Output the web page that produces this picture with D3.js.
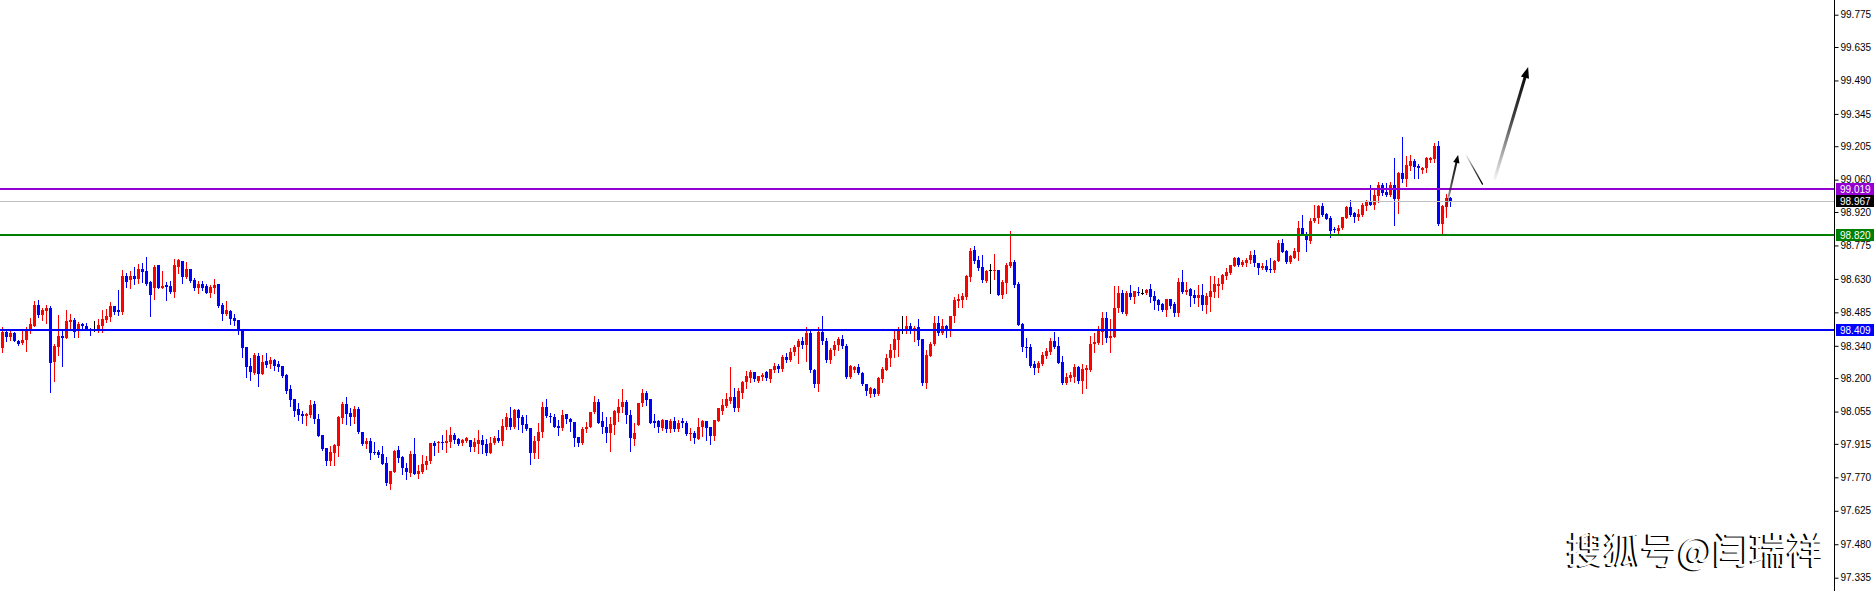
<!DOCTYPE html>
<html><head><meta charset="utf-8">
<script src="https://cdn.jsdelivr.net/npm/d3@7"></script>
<style>html,body{margin:0;padding:0;background:#fff;overflow:hidden}</style>
</head><body>
<svg id="c" width="1876" height="591"></svg>
<script>
const opens = [
98.329,98.401,98.379,98.397,98.360,98.353,98.365,98.408,98.427,98.517,
98.473,98.492,98.502,98.271,98.336,98.382,98.376,98.444,98.452,98.411,
98.434,98.425,98.415,98.412,98.408,98.425,98.452,98.466,98.512,98.495,
98.488,98.642,98.625,98.642,98.628,98.671,98.664,98.615,98.592,98.690,
98.592,98.603,98.600,98.574,98.683,98.707,98.639,98.673,98.625,98.589,
98.610,98.600,98.570,98.589,98.610,98.519,98.476,98.492,98.462,98.452,
98.408,98.336,98.254,98.220,98.297,98.217,98.275,98.261,98.278,98.259,
98.254,98.213,98.152,98.109,98.066,98.045,98.037,98.040,98.088,98.021,
97.954,97.899,97.842,97.877,97.906,98.029,98.088,98.047,98.033,98.065,
97.968,97.915,97.927,97.878,97.878,97.871,97.831,97.741,97.795,97.888,
97.860,97.809,97.790,97.871,97.783,97.795,97.823,97.841,97.920,97.917,
97.923,97.917,97.925,97.954,97.936,97.917,97.929,97.932,97.903,97.915,
97.932,97.915,97.877,97.920,97.942,97.929,97.987,98.026,97.987,98.062,
98.030,98.000,97.982,97.877,97.927,97.965,98.073,98.037,98.033,97.993,
97.985,98.043,98.021,98.008,97.946,97.920,97.979,97.986,98.052,98.098,
98.012,97.986,97.964,97.997,98.050,98.076,98.098,98.041,97.938,97.997,
98.091,98.137,98.108,98.015,98.012,97.983,98.019,97.980,98.012,97.978,
98.012,98.007,97.957,97.964,97.937,97.986,98.012,97.990,97.950,98.015,
98.059,98.080,98.101,98.116,98.072,98.137,98.181,98.202,98.228,98.189,
98.204,98.228,98.195,98.233,98.253,98.239,98.290,98.278,98.315,98.335,
98.360,98.345,98.395,98.236,98.175,98.400,98.360,98.280,98.320,98.345,
98.370,98.340,98.206,98.233,98.246,98.224,98.175,98.131,98.152,98.131,
98.196,98.235,98.285,98.321,98.365,98.414,98.404,98.428,98.408,98.420,
98.369,98.177,98.295,98.347,98.440,98.394,98.425,98.408,98.469,98.535,
98.538,98.550,98.639,98.755,98.712,98.681,98.622,98.667,98.665,98.668,
98.560,98.613,98.687,98.704,98.608,98.434,98.336,98.336,98.261,98.245,
98.261,98.295,98.311,98.362,98.339,98.268,98.177,98.202,98.206,98.249,
98.187,98.235,98.235,98.350,98.353,98.401,98.459,98.375,98.379,98.506,
98.570,98.480,98.567,98.553,98.574,98.569,98.567,98.586,98.556,98.538,
98.521,98.495,98.543,98.520,98.484,98.615,98.575,98.586,98.560,98.549,
98.560,98.517,98.553,98.575,98.601,98.606,98.644,98.654,98.687,98.722,
98.690,98.700,98.712,98.734,98.697,98.679,98.686,98.673,98.669,98.708,
98.784,98.751,98.705,98.722,98.748,98.849,98.825,98.796,98.882,98.893,
98.946,98.910,98.895,98.846,98.839,98.849,98.895,98.943,98.914,98.897,
98.907,98.947,98.965,98.950,98.989,99.037,99.008,98.994,99.037,98.976,
99.091,99.062,99.121,99.141,99.121,99.102,99.109,99.145,99.148,99.206,
98.868,98.943,98.982];
const highs = [
98.420,98.408,98.404,98.401,98.365,98.404,98.420,98.462,98.535,98.538,
98.502,98.519,98.512,98.350,98.473,98.405,98.495,98.480,98.459,98.444,
98.441,98.437,98.417,98.447,98.456,98.495,98.498,98.530,98.512,98.582,
98.668,98.657,98.665,98.683,98.693,98.697,98.723,98.621,98.690,98.690,
98.664,98.618,98.621,98.716,98.715,98.707,98.704,98.675,98.632,98.621,
98.621,98.606,98.603,98.628,98.610,98.524,98.534,98.495,98.480,98.454,
98.408,98.336,98.285,98.307,98.307,98.300,98.307,98.293,98.281,98.275,
98.254,98.216,98.170,98.109,98.090,98.059,98.050,98.105,98.101,98.045,
97.954,97.899,97.906,97.914,98.036,98.098,98.117,98.069,98.079,98.073,
97.968,97.942,97.942,97.925,97.888,97.906,97.860,97.797,97.888,97.906,
97.862,97.831,97.884,97.942,97.823,97.867,97.862,97.920,97.929,97.929,
97.954,97.975,97.987,97.964,97.939,97.935,97.946,97.932,97.939,97.975,
97.954,97.935,97.943,97.949,97.975,98.021,98.050,98.073,98.066,98.065,
98.040,98.040,97.982,97.951,98.004,98.098,98.110,98.050,98.043,98.019,
98.062,98.043,98.026,98.008,97.946,97.987,98.008,98.055,98.124,98.110,
98.055,98.033,98.033,98.062,98.110,98.153,98.105,98.062,98.004,98.094,
98.152,98.145,98.111,98.045,98.019,98.022,98.019,98.022,98.030,98.019,
98.029,98.012,97.983,97.971,98.029,98.019,98.015,97.990,98.019,98.069,
98.108,98.137,98.246,98.156,98.156,98.189,98.231,98.236,98.228,98.210,
98.221,98.231,98.239,98.264,98.262,98.300,98.310,98.330,98.345,98.370,
98.380,98.420,98.410,98.240,98.420,98.470,98.375,98.330,98.360,98.380,
98.385,98.350,98.257,98.253,98.262,98.228,98.175,98.163,98.155,98.206,
98.249,98.303,98.350,98.408,98.420,98.469,98.469,98.441,98.425,98.456,
98.369,98.321,98.358,98.469,98.469,98.456,98.430,98.469,98.550,98.564,
98.570,98.647,98.762,98.772,98.729,98.733,98.668,98.694,98.738,98.668,
98.625,98.700,98.837,98.712,98.615,98.437,98.375,98.347,98.274,98.274,
98.314,98.329,98.376,98.398,98.379,98.295,98.223,98.228,98.259,98.254,
98.259,98.256,98.382,98.394,98.425,98.488,98.488,98.456,98.600,98.600,
98.582,98.579,98.603,98.577,98.593,98.586,98.586,98.608,98.577,98.543,
98.527,98.545,98.543,98.531,98.635,98.669,98.615,98.591,98.582,98.604,
98.608,98.567,98.644,98.644,98.632,98.651,98.676,98.690,98.726,98.726,
98.712,98.719,98.751,98.755,98.700,98.700,98.712,98.722,98.712,98.799,
98.803,98.755,98.734,98.762,98.882,98.907,98.835,98.895,98.950,98.950,
98.961,98.914,98.903,98.856,98.864,98.900,98.947,98.972,98.921,98.932,
98.961,98.972,99.037,99.015,99.052,99.044,99.044,99.052,99.153,99.095,
99.247,99.164,99.167,99.148,99.128,99.117,99.157,99.160,99.218,99.228,
98.950,98.997,98.986];
const lows = [
98.314,98.362,98.365,98.360,98.343,98.350,98.319,98.394,98.427,98.466,
98.454,98.437,98.141,98.189,98.300,98.254,98.376,98.408,98.379,98.379,
98.408,98.408,98.387,98.404,98.398,98.401,98.444,98.447,98.480,98.473,
98.480,98.596,98.592,98.606,98.613,98.618,98.603,98.470,98.545,98.589,
98.589,98.538,98.567,98.553,98.654,98.613,98.632,98.618,98.582,98.567,
98.582,98.567,98.553,98.567,98.509,98.454,98.473,98.434,98.430,98.391,
98.293,98.206,98.191,98.216,98.167,98.217,98.249,98.242,98.235,98.230,
98.206,98.136,98.080,98.037,98.018,98.007,97.997,98.033,98.004,97.949,
97.888,97.823,97.823,97.823,97.862,98.007,98.001,97.997,98.007,97.961,
97.910,97.896,97.848,97.870,97.857,97.828,97.737,97.719,97.795,97.838,
97.784,97.763,97.777,97.784,97.769,97.790,97.805,97.834,97.867,97.881,
97.893,97.881,97.900,97.920,97.910,97.910,97.925,97.884,97.886,97.877,
97.874,97.867,97.874,97.915,97.925,97.910,97.978,97.978,97.982,97.978,
97.968,97.975,97.828,97.852,97.852,97.946,98.033,98.011,97.987,97.954,
97.975,98.007,97.972,97.906,97.906,97.914,97.968,97.986,98.048,98.004,
97.964,97.921,97.886,97.958,98.015,98.055,98.007,97.886,97.908,97.997,
98.081,98.084,98.004,97.990,97.968,97.975,97.968,97.968,97.972,97.971,
97.986,97.954,97.932,97.918,97.937,97.947,97.932,97.913,97.932,98.012,
98.043,98.076,98.094,98.059,98.059,98.113,98.156,98.181,98.189,98.182,
98.192,98.192,98.185,98.228,98.228,98.230,98.268,98.272,98.300,98.267,
98.330,98.275,98.225,98.160,98.146,98.350,98.270,98.265,98.300,98.320,
98.330,98.200,98.199,98.225,98.218,98.168,98.127,98.119,98.123,98.126,
98.184,98.235,98.254,98.293,98.297,98.394,98.397,98.394,98.362,98.343,
98.170,98.158,98.295,98.343,98.387,98.391,98.379,98.384,98.444,98.509,
98.509,98.545,98.621,98.700,98.668,98.618,98.615,98.570,98.629,98.560,
98.548,98.567,98.683,98.596,98.430,98.319,98.293,98.249,98.217,98.225,
98.256,98.288,98.304,98.329,98.264,98.173,98.173,98.187,98.184,98.177,
98.134,98.155,98.230,98.314,98.347,98.350,98.358,98.314,98.379,98.488,
98.483,98.473,98.543,98.524,98.560,98.564,98.563,98.531,98.501,98.495,
98.492,98.470,98.505,98.471,98.471,98.567,98.565,98.514,98.527,98.514,
98.495,98.481,98.491,98.553,98.553,98.586,98.630,98.651,98.686,98.687,
98.687,98.687,98.700,98.686,98.651,98.671,98.664,98.661,98.661,98.708,
98.745,98.700,98.697,98.719,98.712,98.820,98.752,98.787,98.878,98.871,
98.903,98.888,98.813,98.835,98.825,98.846,98.893,98.903,98.878,98.885,
98.903,98.929,98.950,98.933,98.965,98.994,98.989,98.989,98.864,98.917,
99.052,99.034,99.102,99.066,99.069,99.088,99.095,99.135,99.138,98.864,
98.823,98.897,98.947];
const closes = [
98.401,98.379,98.397,98.362,98.347,98.365,98.408,98.434,98.517,98.473,
98.495,98.502,98.267,98.339,98.382,98.375,98.447,98.452,98.401,98.434,
98.428,98.411,98.408,98.412,98.430,98.456,98.469,98.512,98.488,98.488,
98.642,98.618,98.642,98.629,98.671,98.661,98.608,98.560,98.683,98.592,
98.600,98.596,98.574,98.690,98.712,98.639,98.671,98.622,98.589,98.610,
98.589,98.570,98.596,98.603,98.514,98.476,98.495,98.456,98.447,98.408,
98.332,98.249,98.225,98.300,98.217,98.271,98.256,98.278,98.254,98.249,
98.210,98.144,98.105,98.059,98.040,98.037,98.045,98.084,98.021,97.949,
97.893,97.842,97.881,97.910,98.033,98.088,98.045,98.033,98.065,97.965,
97.915,97.927,97.874,97.874,97.867,97.828,97.747,97.797,97.884,97.855,
97.809,97.795,97.870,97.784,97.797,97.828,97.841,97.917,97.907,97.925,
97.917,97.929,97.954,97.932,97.915,97.932,97.942,97.903,97.923,97.932,
97.910,97.877,97.920,97.942,97.927,97.993,98.033,97.990,98.062,98.026,
97.997,97.978,97.877,97.929,97.965,98.073,98.036,98.030,97.990,97.985,
98.040,98.021,98.008,97.942,97.920,97.979,97.990,98.055,98.098,98.007,
97.986,97.961,98.001,98.058,98.076,98.098,98.041,97.942,97.961,98.094,
98.137,98.103,98.007,98.004,97.986,98.019,97.978,98.012,97.978,98.007,
98.004,97.957,97.964,97.939,97.990,98.015,97.983,97.947,98.019,98.069,
98.084,98.108,98.116,98.072,98.142,98.181,98.211,98.228,98.195,98.207,
98.214,98.199,98.239,98.253,98.239,98.290,98.278,98.315,98.335,98.360,
98.345,98.395,98.233,98.175,98.400,98.360,98.280,98.320,98.345,98.370,
98.340,98.206,98.253,98.246,98.221,98.173,98.142,98.158,98.129,98.199,
98.239,98.285,98.321,98.369,98.415,98.414,98.428,98.408,98.418,98.365,
98.177,98.300,98.350,98.437,98.397,98.425,98.404,98.469,98.538,98.544,
98.557,98.642,98.751,98.709,98.678,98.625,98.664,98.667,98.668,98.560,
98.618,98.690,98.704,98.603,98.430,98.336,98.332,98.254,98.245,98.267,
98.300,98.317,98.360,98.336,98.267,98.177,98.206,98.213,98.249,98.189,
98.239,98.245,98.350,98.358,98.405,98.459,98.376,98.384,98.506,98.570,
98.485,98.570,98.553,98.577,98.570,98.569,98.582,98.553,98.535,98.519,
98.495,98.541,98.514,98.484,98.615,98.572,98.582,98.557,98.549,98.560,
98.517,98.557,98.578,98.608,98.608,98.647,98.658,98.690,98.722,98.690,
98.702,98.712,98.734,98.697,98.679,98.686,98.669,98.669,98.708,98.784,
98.748,98.705,98.729,98.752,98.849,98.825,98.799,98.882,98.895,98.946,
98.907,98.890,98.839,98.845,98.852,98.897,98.943,98.907,98.900,98.910,
98.950,98.968,98.950,98.994,99.037,99.004,98.994,99.037,98.976,99.091,
99.062,99.124,99.141,99.117,99.109,99.109,99.153,99.156,99.206,98.868,
98.946,98.982,98.965];

const tickLabels = ["99.775","99.635","99.490","99.345","99.205","99.060","98.920","98.775","98.630",
  "98.485","98.340","98.200","98.055","97.915","97.770","97.625","97.480","97.335"];
const levelValues = [99.019, 98.967, 98.820, 98.409];
const levelLabels = ["99.019", "98.967", "98.820", "98.409"];
// arrows: [barIndex, price] start and end
const arrowStarts = [[360.6, 98.915], [365.9, 99.167], [373.1, 99.066]];
const arrowEnds   = [[363.9, 99.167], [370.0, 99.041], [381.4, 99.548]];
const watermark = "搜狐号@闫瑞祥";

const W = 1876, H = 591, axisX = 1834;
const svg = d3.select('#c');
const n = opens.length;
const x = d3.scaleLinear().domain([0, n - 1]).range([2.5, 2.5 + 4 * (n - 1)]);
const y = d3.scaleLinear().domain([97.335, 99.775]).range([577.7, 14.7]);

const bars = d3.range(n).map(i => ({i, o: opens[i], h: highs[i], l: lows[i], c: closes[i]}));
const col = d => d.c > d.o ? '#ff0000' : (d.c < d.o ? '#0000ff' : '#000000');

const gC = svg.append('g');
gC.selectAll('line.w').data(bars).enter().append('line')
  .attr('x1', d => x(d.i)).attr('x2', d => x(d.i))
  .attr('y1', d => Math.round(y(d.h))).attr('y2', d => Math.round(y(d.l)) + 1)
  .attr('stroke', col).attr('stroke-width', 1);
gC.selectAll('rect.b').data(bars).enter().append('rect')
  .attr('x', d => x(d.i) - 1.5).attr('width', 3)
  .attr('y', d => Math.round(y(Math.max(d.o, d.c))))
  .attr('height', d => Math.max(1, Math.round(y(Math.min(d.o, d.c))) - Math.round(y(Math.max(d.o, d.c)))))
  .attr('fill', col);

// horizontal levels
const levelColors = ['#9400d3', '#c0c0c0', '#008000', '#0000ff'];
const levelWidths = [2, 1, 2, 2];
const boxText = ['#ffffff', '#ffffff', '#ffffff', '#ffffff'];
const boxFill = ['#9400d3', '#000000', '#008000', '#0000ff'];
svg.append('g').selectAll('line').data(levelValues).enter().append('line')
  .attr('x1', 0).attr('x2', axisX)
  .attr('y1', (d, i) => levelWidths[i] === 1 ? Math.round(y(d)) + 0.5 : Math.round(y(d)))
  .attr('y2', (d, i) => levelWidths[i] === 1 ? Math.round(y(d)) + 0.5 : Math.round(y(d)))
  .attr('stroke', (d, i) => levelColors[i]).attr('stroke-width', (d, i) => levelWidths[i]);

// arrows
const defs = svg.append('defs');
const arrowW = [2, 1.3, 3];
const arrowHead = [[8, 3.2], null, [11, 4.2]];
arrowStarts.forEach((s, k) => {
  const x1 = x(s[0]), y1 = y(s[1]), x2 = x(arrowEnds[k][0]), y2 = y(arrowEnds[k][1]);
  const gid = 'ag' + k;
  const g = defs.append('linearGradient').attr('id', gid).attr('gradientUnits', 'userSpaceOnUse')
    .attr('x1', x1).attr('y1', y1).attr('x2', x2).attr('y2', y2);
  g.append('stop').attr('offset', 0).attr('stop-color', '#000').attr('stop-opacity', 0.05);
  g.append('stop').attr('offset', 0.55).attr('stop-color', '#000').attr('stop-opacity', 0.75);
  g.append('stop').attr('offset', 1).attr('stop-color', '#000').attr('stop-opacity', 1);
  const dx = x2 - x1, dy = y2 - y1, L = Math.hypot(dx, dy), ux = dx / L, uy = dy / L;
  const hd = arrowHead[k];
  const lx2 = hd ? x2 - ux * hd[0] * 0.6 : x2, ly2 = hd ? y2 - uy * hd[0] * 0.6 : y2;
  svg.append('line').attr('x1', x1).attr('y1', y1).attr('x2', lx2).attr('y2', ly2)
    .attr('stroke', `url(#${gid})`).attr('stroke-width', arrowW[k]).attr('stroke-linecap', 'round');
  if (hd) {
    const bx = x2 - ux * hd[0], by = y2 - uy * hd[0];
    const px = -uy, py = ux;
    svg.append('polygon')
      .attr('points', [[x2, y2], [bx + px * hd[1], by + py * hd[1]], [bx - px * hd[1], by - py * hd[1]]].map(p => p.join(',')).join(' '))
      .attr('fill', '#000');
  }
});

// watermark
const wm = svg.append('g').attr('font-family', "'Noto Sans CJK SC', sans-serif").attr('font-size', 37)
  .attr('text-anchor', 'end');
wm.append('text').attr('x', 1822).attr('y', 565).attr('fill', '#000').text(watermark);
wm.append('text').attr('x', 1824).attr('y', 564).attr('fill', '#fff').text(watermark);

// right axis
svg.append('rect').attr('x', axisX + 1).attr('y', 0).attr('width', W - axisX - 1).attr('height', H).attr('fill', '#fff');
const ax = svg.append('g').attr('transform', `translate(${axisX + 0.5},0)`)
  .call(d3.axisRight(y).tickValues(tickLabels.map(Number)).tickFormat((d, i) => tickLabels[i]).tickSize(4).tickSizeOuter(0).tickPadding(2));
ax.select('.domain').remove();
ax.selectAll('text').attr('font-family', "'Liberation Sans', Arial, sans-serif").attr('font-size', 10).attr('fill', '#000');
ax.selectAll('line').attr('stroke', '#000');
svg.append('line').attr('x1', axisX + 0.5).attr('x2', axisX + 0.5).attr('y1', 0).attr('y2', H).attr('stroke', '#000');

// level price boxes
const lb = svg.append('g');
levelValues.forEach((v, i) => {
  const cy = Math.round(y(v));
  lb.append('rect').attr('x', axisX + 2).attr('y', cy - 6).attr('width', 38).attr('height', 12).attr('fill', boxFill[i]);
  lb.append('text').attr('x', axisX + 6).attr('y', cy).attr('dy', '0.35em')
    .attr('font-family', "'Liberation Sans', Arial, sans-serif").attr('font-size', 10)
    .attr('fill', boxText[i]).text(levelLabels[i]);
});
</script>
</body></html>
